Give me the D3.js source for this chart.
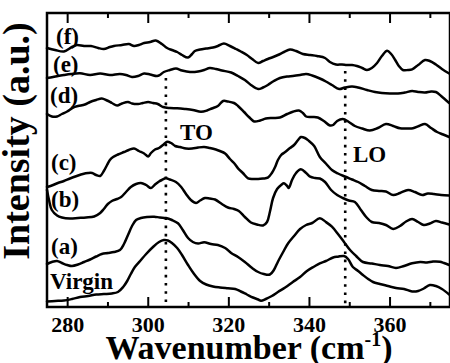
<!DOCTYPE html>
<html><head><meta charset="utf-8">
<script src="https://cdn.jsdelivr.net/npm/d3@7"></script>
</head>
<body style="margin:0">
<svg id="chart" width="450" height="363" style="display:block;background:#fff"></svg>
<script>
// ---- data (wavenumber cm^-1, intensity a.u.) ----
const seriesNames = ["(f)", "(e)", "(d)", "(c)", "(b)", "(a)", "Virgin"];

const waveF = [275.0,277.0,279.2,281.2,282.4,284.2,285.9,287.7,289.1,290.6,291.6,293.6,295.3,296.6,297.8,299.1,300.6,302.0,303.5,304.8,306.0,307.3,308.5,310.0,311.0,311.7,313.0,314.5,316.2,317.4,318.9,320.4,321.9,323.1,324.6,325.9,327.4,328.6,329.8,331.1,332.3,333.8,335.3,336.8,338.5,340.3,342.0,344.0,345.2,346.7,348.2,349.4,350.7,351.9,353.2,354.4,355.6,356.9,358.1,359.4,360.4,361.4,362.3,363.3,364.6,365.6,367.1,368.8,370.0,371.5,373.0,374.8];
const intF = [259,257,255.5,260,262,261,261,259,258,260,261,262,263,261,262,264,265,266.5,263,259,257,255,252,249.5,253,256,257.5,258.5,259.5,261,263.5,261,258,255.5,252,248,244,246,248,250,252,255,257.5,256,253,252,251,249,245,242.5,242.5,242,242,241,239,237,239,244,251,256.3,253,247,241,237,237,237.7,242,247,246,242.5,238,233.5];

const waveE = [275.0,276.5,277.7,279.2,281.0,283.2,285.7,288.2,290.6,293.1,294.6,296.1,297.6,299.1,300.6,302.3,303.0,304.0,305.5,307.0,308.5,310.5,312.5,314.0,315.4,316.9,318.4,320.7,322.4,324.1,325.6,327.4,328.6,329.8,331.3,332.8,334.6,336.0,337.8,339.3,340.8,342.7,344.2,345.7,347.5,348.9,350.7,352.2,354.4,356.4,358.1,360.1,362.1,363.8,365.6,367.1,368.8,370.3,371.5,372.8,374.8];
const intE = [229,230,231,232,233,233.7,232,233.5,232,233,232,230,231,233.5,232.5,231,232,235,237,238.5,236.5,235,235.5,237,239,238,236.5,234.5,231,227,222,218,219.5,222,226,229,230.5,231,232,233,231.5,228.5,225.5,222,218,219.5,220.5,219.5,217,215,214,213.5,213.5,214.5,216,215,214.5,215.5,215,211,204];

const waveD = [275.0,276.2,277.5,278.7,280.0,281.5,282.7,284.4,285.7,287.2,288.6,289.9,291.1,292.4,293.6,295.1,296.1,297.6,298.8,300.1,301.3,302.5,303.8,305.5,307.3,309.2,311.2,313.2,314.7,315.9,317.4,318.7,319.9,321.4,322.4,323.9,325.1,326.4,327.9,329.3,331.1,332.8,334.6,336.0,337.5,338.5,339.3,340.8,342.2,343.7,345.2,346.0,347.0,348.4,349.9,351.4,353.2,355.1,357.1,359.1,360.9,362.6,364.3,365.8,367.3,368.8,370.3,371.8,373.3,374.8];
const intD = [193,190.5,190.5,193,195.5,199.5,201,202.5,205,207,208.5,206.5,204,201.5,203.5,205,203.5,203,204,205,204,203,200,199,198.7,198,197,195.3,196.5,198.5,201,206,205.5,204,201,195,190,185.5,186.5,188.5,189,189.5,193,195.3,196.5,194,190.5,190,189.5,186,181.5,182,186,188,185,181,178.5,176.5,179,183,181,178.7,178.5,178.7,181,183,179,175,172.5,170];

const waveC = [275.0,276.2,277.7,279.2,280.7,282.4,283.9,285.2,286.2,287.2,288.2,289.1,289.9,290.6,291.4,292.6,294.1,295.3,296.6,297.8,299.1,300.1,300.8,301.8,302.8,303.8,304.8,305.8,306.8,308.0,309.5,311.0,312.5,314.0,315.4,316.9,317.9,319.2,320.4,321.4,322.4,323.6,324.9,326.1,327.4,328.6,329.8,330.8,331.6,332.3,333.1,334.1,335.3,336.3,337.3,338.0,339.0,340.0,341.3,342.7,344.2,345.7,347.2,348.9,350.7,352.2,353.9,355.6,357.4,359.1,360.9,362.6,364.6,366.3,368.1,369.5,371.0,372.8,374.8];
const intC = [120,121.5,124,126,128.5,131,133,134,134,132,131,136,142,147,150,152.5,155,157,158.5,156,153.5,150.5,154,157.5,159,162,165.3,164,161,160,158.5,158.5,159.5,160,159,157.5,156,153.5,148,144,138.7,134,128.7,128,128,128.5,129.3,134,140,147,152,155,159,162,167,170,169,166,161,150,143.5,137,133.5,130.5,127.5,125,121,117,116,115.5,112,114,117,115,112,113.5,113,112,111.5];

const waveB = [275.0,275.5,276.2,277.5,278.7,280.7,282.7,284.7,286.7,288.2,289.1,290.1,291.1,292.4,293.4,294.6,295.8,297.1,298.3,299.6,300.8,301.8,302.8,303.5,304.5,305.5,307.0,308.3,309.5,310.7,312.0,313.0,314.2,315.4,316.7,318.4,319.9,321.4,322.6,324.1,325.6,327.1,328.6,329.6,330.3,331.1,332.1,333.1,333.8,334.6,335.0,335.8,336.8,338.0,339.3,340.3,341.5,342.7,344.0,345.5,347.0,348.4,349.9,351.4,352.9,354.2,355.6,357.4,359.1,360.9,362.6,364.1,365.6,367.1,368.5,370.0,371.5,373.0,374.8];
const intB = [117,107,97,91.5,89.5,88.5,89,89.5,90.5,94,98,103,106,108,110,115,120,123,124,122,119,122.5,125.5,127,128.7,127.5,125,120,113,107,104,106.5,109,108.5,107.5,103,99.5,98,96,90,84.5,82.5,81.5,85,95,109,118,122,123.7,121,119,127,134,137.7,134,130.3,129,128.5,125,117,112,109,106.5,105,97,90,85,84,82,78,81,85.5,88,85,82,83.5,86,84.5,82.5];

const waveA = [275.0,276.2,277.5,278.7,280.0,281.2,282.7,284.2,285.7,287.2,288.6,290.1,291.6,293.1,294.1,295.1,296.1,297.1,298.3,299.8,301.6,303.0,304.5,306.0,307.5,308.7,310.0,311.2,312.5,314.0,315.7,317.4,319.2,320.7,322.4,324.1,325.9,327.4,328.8,330.3,331.3,332.3,333.6,334.8,336.3,337.8,339.3,340.8,342.7,344.2,345.7,347.2,348.7,350.2,351.7,353.4,355.6,357.6,359.6,361.6,363.6,365.6,367.6,369.3,370.8,372.5,373.5,374.8];
const intA = [43,45,46,44,42,41,42.5,45,47.5,50.5,53,54,55,57,63,72,81,87,89,90,90.3,89.5,89,87,83.7,77,69,65,63.5,64.7,63,62,59,54,50,45,39,35,33,32.5,37,45.3,55,63.5,71,78,82,84,88.7,85,80.3,73,65,57,51,45,43.5,42,41,39,41,43.7,45,44.5,45.5,45.3,44,42];

const waveV = [275.0,277.0,279.2,281.2,283.2,285.2,287.2,289.1,291.1,292.6,293.9,294.9,295.8,296.8,298.1,299.6,301.3,302.8,304.0,305.0,306.0,307.3,308.5,310.0,311.5,313.0,314.5,316.2,317.9,319.9,321.7,323.1,324.6,326.1,327.4,328.1,329.3,330.8,332.3,334.1,336.0,337.8,339.5,341.3,342.7,344.2,346.0,347.2,348.7,349.7,350.9,352.2,353.4,354.7,355.9,357.6,359.6,361.6,363.6,365.6,367.1,368.5,370.0,371.5,373.0,374.8];
const intV = [5.5,6,6.5,8,10,11,12.5,13,13.5,15,20,26,33,40,46,53,60,65,67,66.5,64,59,52,42,33,26,22.5,20.5,19.5,18.7,18,15.5,12.5,9.5,7.5,6.3,8,11,15,19.5,25,30,36,40.5,43.7,46,49.5,50.3,51,48,40,36,32,28,25,23,21,19,18,15.5,16,18.5,22,21,18,12.5];

const xMajorTicks = [280, 300, 320, 340, 360];
const xMinorTicks = [290, 310, 330, 350, 370];
const xDomain = [275, 375];
const yDomain = [0, 294];
const peakLines = [{name: "TO", wave: 304.5, top: 229}, {name: "LO", wave: 349, top: 236}];

const waves = [waveF, waveE, waveD, waveC, waveB, waveA, waveV];
const ints  = [intF, intE, intD, intC, intB, intA, intV];

// ---- warm up the serif font (forces a synchronous font lookup) ----
const FONT = "'Liberation Serif', monospace";
const warm = document.createElement("canvas").getContext("2d");
[20, 22, 23, 34, 38].forEach(s => {
  warm.font = "bold " + s + "px " + FONT;
  warm.measureText("Intensity (a.u.) Wavenumber (cm-1) 0123456789 TO LO Virgin (a)(b)(c)(d)(e)(f)");
});

// ---- drawing ----
const svg = d3.select("#chart");
const L = 47, R = 450, T = 13, B = 307;
const x = d3.scaleLinear().domain(xDomain).range([L, R]);
const y = d3.scaleLinear().domain(yDomain).range([B, T]);

const line = d3.line().x(d => x(d[0])).y(d => y(d[1])).curve(d3.curveCatmullRom.alpha(0.5));

function txt(sel, size) {
  sel.attr("font-family", FONT).attr("font-weight", "bold").attr("fill", "#000").attr("font-size", size);
}

// dotted peak lines
svg.selectAll("line.peak").data(peakLines).join("line")
  .attr("x1", d => x(d.wave)).attr("x2", d => x(d.wave))
  .attr("y1", d => y(d.top)).attr("y2", B)
  .attr("stroke", "#000").attr("stroke-width", 2.6)
  .attr("stroke-dasharray", "2.6,5.6");

// curves
waves.forEach((w, i) => {
  const pts = w.map((v, j) => [v, ints[i][j]]);
  svg.append("path").datum(pts)
    .attr("d", line).attr("fill", "none")
    .attr("stroke", "#000").attr("stroke-width", 2.5)
    .attr("stroke-linejoin", "round").attr("stroke-linecap", "round");
});

// axes
function styleAxis(g) {
  g.attr("font-family", FONT).attr("font-size", 22);
  g.select(".domain").remove();
  g.selectAll("line").attr("stroke", "#000").attr("stroke-width", 2);
  g.selectAll("text").call(txt, 22);
}
svg.append("g").attr("transform", `translate(0,${B})`)
  .call(d3.axisBottom(x).tickValues(xMajorTicks).tickSizeInner(-10).tickSizeOuter(0).tickPadding(9).tickFormat(d3.format("d")))
  .call(styleAxis);
svg.append("g").attr("transform", `translate(0,${B})`)
  .call(d3.axisBottom(x).tickValues(xMinorTicks).tickSizeInner(-5).tickSizeOuter(0).tickFormat(""))
  .call(styleAxis);
svg.append("g").attr("transform", `translate(0,${T})`)
  .call(d3.axisTop(x).tickValues(xMajorTicks).tickSizeInner(-10).tickSizeOuter(0).tickFormat(""))
  .call(styleAxis);
svg.append("g").attr("transform", `translate(0,${T})`)
  .call(d3.axisTop(x).tickValues(xMinorTicks).tickSizeInner(-5).tickSizeOuter(0).tickFormat(""))
  .call(styleAxis);

// frame
svg.append("rect").attr("x", L).attr("y", T).attr("width", R - L).attr("height", B - T)
  .attr("fill", "none").attr("stroke", "#000").attr("stroke-width", 2.5);

// series labels
const labelPos = [[56, 44], [53, 72], [50, 103], [51, 170], [51, 207], [51, 254], [50, 289]];
svg.selectAll("text.series").data(seriesNames).join("text")
  .attr("class", "series")
  .attr("x", (d, i) => labelPos[i][0]).attr("y", (d, i) => labelPos[i][1])
  .call(txt, 23)
  .text(d => d);

// peak labels
svg.append("text").attr("x", 180).attr("y", 140).call(txt, 23).text(peakLines[0].name);
svg.append("text").attr("x", 353).attr("y", 162).call(txt, 23).text(peakLines[1].name);

// axis titles
const xt = svg.append("text").attr("x", 249).attr("y", 359).attr("text-anchor", "middle").call(txt, 34);
xt.append("tspan").text("Wavenumber (cm");
xt.append("tspan").attr("font-size", 20).attr("dy", -13).text("-1");
xt.append("tspan").attr("dy", 13).text(")");

svg.append("text").attr("transform", "translate(29,141) rotate(-90)")
  .attr("text-anchor", "middle").call(txt, 38).text("Intensity (a.u.)");
</script>
</body></html>
